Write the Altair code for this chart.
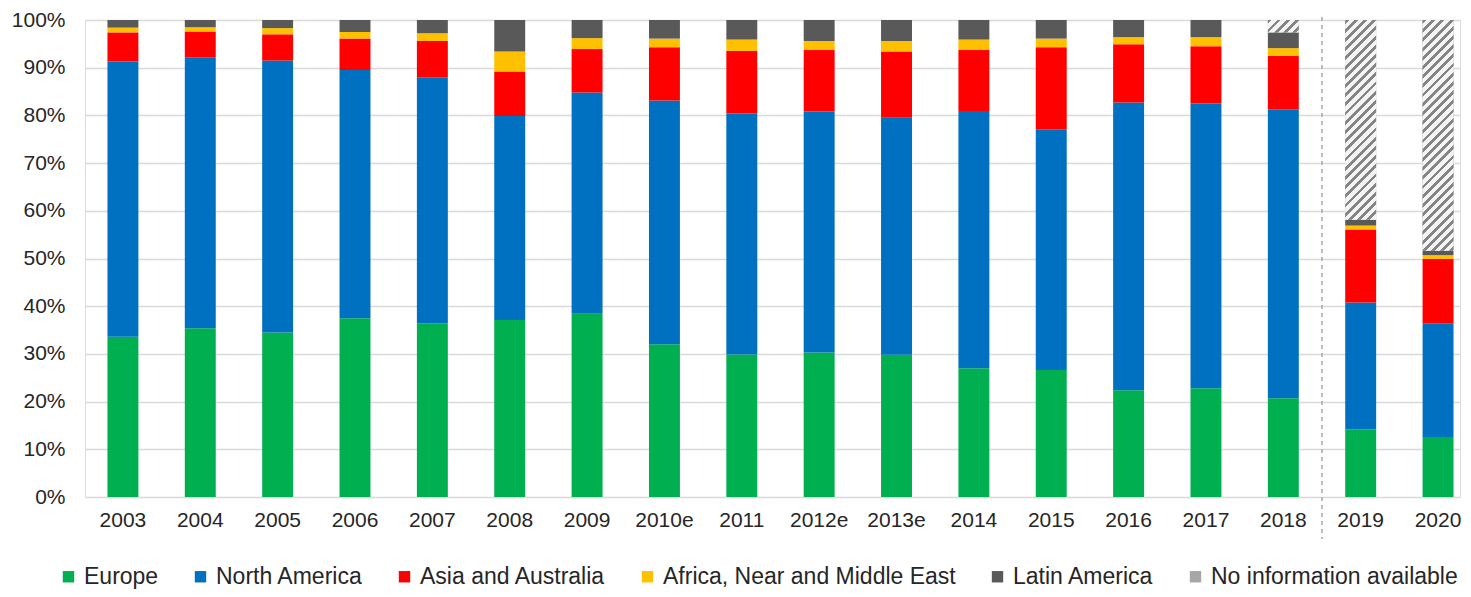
import math
import altair as alt
import pandas as pd

years = ["2003", "2004", "2005", "2006", "2007", "2008", "2009", "2010e", "2011",
         "2012e", "2013e", "2014", "2015", "2016", "2017", "2018", "2019", "2020"]
europe = [33.6, 35.4, 34.5, 37.5, 36.4, 37.1, 38.4, 32.0, 29.9, 30.3, 29.8, 27.0,
          26.6, 22.4, 22.8, 20.7, 14.2, 12.6]
north_america = [57.7, 56.8, 57.0, 52.0, 51.6, 42.8, 46.4, 51.1, 50.5, 50.5, 49.7,
                 53.9, 50.5, 60.3, 59.7, 60.6, 26.6, 23.8]
asia_australia = [6.1, 5.4, 5.5, 6.6, 7.6, 9.3, 9.1, 11.2, 13.1, 12.9, 13.9, 12.8,
                  17.2, 12.2, 12.0, 11.2, 15.3, 13.5]
africa_me = [1.0, 0.9, 1.3, 1.4, 1.6, 4.2, 2.3, 1.8, 2.4, 1.9, 2.2, 2.2, 1.8, 1.5,
             1.9, 1.6, 0.8, 0.8]
latin_america = [1.6, 1.5, 1.7, 2.5, 2.8, 6.6, 3.8, 3.9, 4.1, 4.4, 4.4, 4.1, 3.9,
                 3.6, 3.6, 3.3, 1.2, 0.9]
no_info = [0, 0, 0, 0, 0, 0, 0, 0, 0, 0, 0, 0, 0, 0, 0, 2.6, 41.9, 48.4]

regions = ["Europe", "North America", "Asia and Australia",
           "Africa, Near and Middle East", "Latin America", "No information available"]
colors = ["#00b050", "#0070c0", "#ff0000", "#ffc000", "#595959", "#a6a6a6"]
series = [europe, north_america, asia_australia, africa_me, latin_america, no_info]

rows = []
for i, yr in enumerate(years):
    lo = 0.0
    for j, (reg, vals) in enumerate(zip(regions, series)):
        v = vals[i]
        rows.append(dict(year=yr, region=reg, idx=j, value=v, lo=lo, hi=lo + v))
        lo += v
df = pd.DataFrame(rows)

# layout constants
W, H = 1375, 477
P_IN, P_OUT, ALIGN = 0.6, 0.187, 0.776
step = W / (len(years) - P_IN + 2 * P_OUT)
bar_w = step * (1 - P_IN)
FONT = "Liberation Sans"


def hatch(w, h, period=6.5, dark="#858585", light="#f4f4f4"):
    n = (w + h) / (period * math.sqrt(2))
    s = (w + h) / (w * w + h * h)
    stops = []
    for m in range(int(math.ceil(n))):
        a, b, c = m / n, (m + 0.42) / n, (m + 1) / n
        stops += [(min(a, 1), dark), (min(b, 1), dark), (min(b, 1), light), (min(c, 1), light)]
    return alt.LinearGradient(
        gradient="linear",
        stops=[alt.GradientStop(offset=o, color=col) for o, col in stops],
        x1=0, y1=0, x2=s * w, y2=s * h,
    )


x_enc = alt.X(
    "year:N", sort=years, title=None,
    scale=alt.Scale(paddingInner=P_IN, paddingOuter=P_OUT, align=ALIGN),
    axis=alt.Axis(labelAngle=0, ticks=False, domain=False, labelFontSize=21,
                  labelPadding=12, labelColor="#262626", labelFont=FONT),
)
y_enc = alt.Y(
    "lo:Q", title=None,
    scale=alt.Scale(domain=[0, 100], nice=False),
    axis=alt.Axis(values=list(range(0, 101, 10)), labelExpr="datum.value + '%'",
                  ticks=False, domain=False, labelFontSize=21, labelPadding=20,
                  labelColor="#262626", labelFont=FONT, gridColor="#d9d9d9",
                  gridWidth=1.4),
)

bars = alt.Chart(df).mark_bar().encode(
    x=x_enc,
    y=y_enc,
    y2="hi:Q",
    color=alt.Color(
        "region:N", sort=regions,
        scale=alt.Scale(domain=regions, range=colors),
        legend=alt.Legend(title=None, orient="none", legendX=-28, legendY=H + 68,
                          direction="horizontal",
                          symbolType="square", symbolSize=130, symbolStrokeWidth=0,
                          labelFontSize=23, labelFont=FONT, labelColor="#262626",
                          columnPadding=30, labelLimit=0, labelOffset=4),
    ),
    order=alt.Order("idx:Q"),
)

layers = [bars]
for yr, v in zip(years, no_info):
    if v > 0:
        h = H * v / 100.0
        layers.append(
            alt.Chart(df).transform_filter(
                (alt.datum.year == yr) & (alt.datum.region == regions[-1])
            ).mark_bar(fill=hatch(bar_w, h)).encode(
                x=alt.X("year:N", sort=years),
                y=alt.Y("lo:Q"),
                y2="hi:Q",
            )
        )

sep = alt.Chart(df).transform_filter(
    (alt.datum.year == "2018") & (alt.datum.region == "Europe")
).mark_rule(color="#a6a6a6", strokeDash=[4, 4], strokeWidth=1.5, xOffset=step / 2).encode(
    x=alt.X("year:N", sort=years, bandPosition=0.5),
    y=alt.value(-3),
    y2=alt.value(H + 42),
)
layers.append(sep)

chart = alt.layer(*layers).properties(
    width=W, height=H, padding={"left": 3, "top": 1, "right": 0, "bottom": 0}
).configure_view(strokeWidth=0).configure(background="white")

chart.save("out.html", embed_options={"renderer": "svg", "actions": False})
